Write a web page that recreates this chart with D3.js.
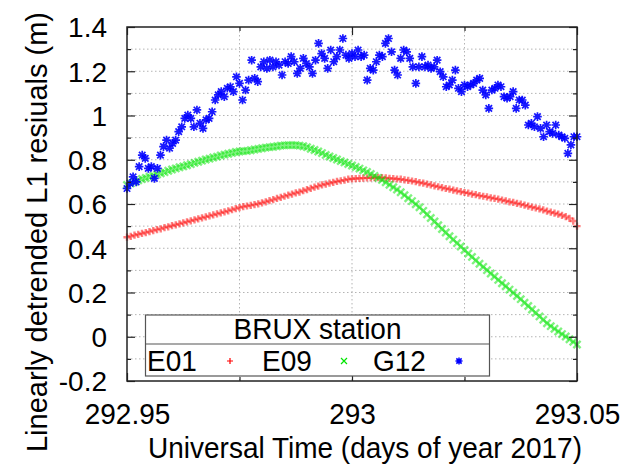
<!DOCTYPE html>
<html><head><meta charset="utf-8">
<script src="https://cdn.jsdelivr.net/npm/d3@7"></script>
<style>
body{margin:0;background:#fff}
text{font-family:"Liberation Sans",Arial,Helvetica,sans-serif;fill:#000}
</style>
</head><body>
<svg id="chart" width="629" height="475"></svg>
<script>
// ---------- data ----------
const tStart = 292.95, tEnd = 293.05;
const seriesNames = ["E01", "E09", "G12"];
const seriesColors = ["#ff0000", "#00e600", "#0000ff"];
const e01 = [
 .450,.454,.459,.463,.467,.471,.475,.480,.484,.488,.493,.497,.502,.506,.510,.515,.519,.524,.528,.533,
 .537,.542,.546,.551,.555,.560,.564,.569,.574,.579,.584,.588,.591,.594,.597,.601,.605,.610,.615,.620,
 .625,.630,.635,.640,.645,.650,.654,.660,.665,.671,.676,.681,.686,.690,.694,.698,.702,.705,.708,.712,
 .714,.715,.716,.717,.718,.718,.719,.719,.719,.718,.716,.715,.713,.712,.709,.707,.704,.701,.697,.694,
 .690,.686,.682,.678,.674,.670,.667,.663,.659,.656,.652,.649,.645,.642,.638,.635,.632,.628,.625,.622,
 .618,.614,.610,.607,.603,.599,.595,.590,.586,.582,.578,.573,.568,.563,.559,.554,.549,.543,.535,.523,
 .500];
const e09 = [
 .686,.693,.700,.707,.713,.718,.723,.728,.733,.739,.744,.750,.756,.761,.766,.770,.775,.780,.786,.791,
 .796,.801,.805,.810,.814,.819,.823,.827,.831,.835,.837,.839,.840,.843,.846,.849,.852,.855,.857,.859,
 .861,.864,.865,.866,.866,.866,.864,.861,.857,.850,.844,.837,.830,.822,.815,.808,.801,.794,.788,.781,
 .774,.767,.760,.752,.745,.736,.727,.718,.709,.698,.687,.676,.665,.653,.640,.626,.613,.599,.585,.569,
 .553,.537,.521,.504,.487,.471,.454,.439,.423,.408,.392,.376,.361,.345,.330,.316,.301,.286,.272,.257,
 .242,.228,.213,.199,.184,.170,.154,.139,.123,.108,.092,.077,.061,.048,.036,.024,.012,.001,-.011,-.023,
 -.035];
const g12 = [
 .670,.693,.723,.700,.769,.821,.806,.761,.769,.716,.761,.821,.859,.889,.852,.874,.889,.927,.949,.987,
 1.002,.987,.949,1.025,.965,.942,.980,.987,1.017,1.070,1.093,1.108,1.085,1.123,1.130,1.108,1.175,
 1.145,1.070,1.115,1.160,1.250,1.168,1.153,1.220,1.243,1.213,1.250,1.220,1.243,1.228,1.183,1.243,1.235,
 1.266,1.243,1.190,1.213,1.258,1.235,1.220,1.190,1.250,1.326,1.280,1.258,1.213,1.296,1.243,1.266,1.296,1.348,
 1.273,1.258,1.280,1.266,1.296,1.266,1.273,1.160,1.213,1.205,1.243,1.273,1.266,1.326,1.348,1.288,1.205,
 1.183,1.258,1.296,1.288,1.258,1.220,1.145,1.220,1.266,1.220,1.228,1.213,1.220,1.250,1.198,1.175,1.130,
 1.138,1.160,1.205,1.123,1.108,1.138,
 1.130,1.138,1.145,1.160,1.168,1.115,1.093,1.032,1.115,1.123,1.138,1.130,1.085,1.078,1.085,1.108,1.032,
 1.070,1.070,1.047,.957,.965,.949,.995,.942,.904,.957,.927,.919,.957,.912,.904,.897,.829,.867,.904,.904];
const seriesValues = [e01, e09, g12];

const yTicks = [-0.2, 0, 0.2, 0.4, 0.6, 0.8, 1, 1.2, 1.4];
const yTickLabels = ["-0.2", "0", "0.2", "0.4", "0.6", "0.8", "1", "1.2", "1.4"];
const yMinor = [-0.1, 0.1, 0.3, 0.5, 0.7, 0.9, 1.1, 1.3];
const xTicks = [292.95, 293, 293.05];
const xTickLabels = ["292.95", "293", "293.05"];
const xMinor = [292.975, 293.025];
const xTitle = "Universal Time (days of year 2017)";
const yTitle = "Linearly detrended L1 resiuals (m)";
const legendTitle = "BRUX station";

// ---------- layout ----------
const L = 127, R = 577, T = 27, B = 381;
const svg = d3.select("#chart");
const x = d3.scaleLinear().domain([tStart, tEnd]).range([L, R]);
const y = d3.scaleLinear().domain([-0.2, 1.4]).range([B, T]);
const FS = 28;
const TS = "scale(1,1.08)";

// grid
const gridG = svg.append("g");
const allY = yTicks.concat(yMinor).filter(v => v > -0.2 && v < 1.4);
const allX = xTicks.concat(xMinor).filter(v => v > tStart && v < tEnd);
gridG.selectAll("line.gy").data(allY).join("line")
  .attr("x1", L).attr("x2", R).attr("y1", d => y(d)).attr("y2", d => y(d))
  .attr("stroke", "#b4b4b4").attr("stroke-width", 1).attr("stroke-dasharray", "1.5,2.5");
gridG.selectAll("line.gx").data(allX).join("line")
  .attr("y1", T).attr("y2", B).attr("x1", d => x(d)).attr("x2", d => x(d))
  .attr("stroke", "#b4b4b4").attr("stroke-width", 1).attr("stroke-dasharray", "1.5,2.5");

// marker shapes
const shapes = {
  plus: r => `M${-r},0H${r}M0,${-r}V${r}`,
  cross: r => `M${-r},${-r}L${r},${r}M${-r},${r}L${r},${-r}`,
  star: r => `M${-r},0H${r}M0,${-r}V${r}M${-r*0.75},${-r*0.75}L${r*0.75},${r*0.75}M${-r*0.75},${r*0.75}L${r*0.75},${-r*0.75}`
};
const seriesShape = ["plus", "cross", "star"];
const seriesR = [3.6, 3.6, 4.3];
const seriesW = [2.4, 2.4, 1.7];
const seriesOp = [0.5, 0.5, 0.9];

const dataG = svg.append("g");
seriesValues.forEach((vals, si) => {
  const n = vals.length;
  const pts = vals.map((v, i) => ({t: tStart + i * (tEnd - tStart) / (n - 1), v}));
  dataG.append("g").selectAll("path").data(pts).join("path")
    .attr("transform", d => `translate(${x(d.t)},${y(d.v)})`)
    .attr("d", shapes[seriesShape[si]](seriesR[si]))
    .attr("fill", "none")
    .attr("stroke", seriesColors[si])
    .attr("stroke-width", seriesW[si])
    .attr("stroke-opacity", seriesOp[si]);
});

// axes ticks (inward, mirrored)
function styleAxis(g) {
  g.select(".domain").remove();
  g.selectAll(".tick line").attr("stroke", "#222").attr("stroke-width", 1.2);
}
svg.append("g").attr("transform", `translate(0,${B})`)
  .call(d3.axisBottom(x).tickValues(xTicks).tickSize(-8).tickFormat((d, i) => xTickLabels[i]))
  .call(styleAxis)
  .call(g => g.selectAll("text").attr("font-size", FS).attr("dy", 0).attr("y", 40)
    .attr("transform", TS)
    .style("font-family", "Liberation Sans, Arial, sans-serif").attr("fill", "#000"));
svg.append("g").attr("transform", `translate(0,${B})`)
  .call(d3.axisBottom(x).tickValues(xMinor).tickSize(-4).tickFormat(""))
  .call(styleAxis);
svg.append("g").attr("transform", `translate(0,${T})`)
  .call(d3.axisTop(x).tickValues(xTicks).tickSize(-8).tickFormat(""))
  .call(styleAxis);
svg.append("g").attr("transform", `translate(0,${T})`)
  .call(d3.axisTop(x).tickValues(xMinor).tickSize(-4).tickFormat(""))
  .call(styleAxis);
svg.append("g").attr("transform", `translate(${L},0)`)
  .call(d3.axisLeft(y).tickValues(yTicks).tickSize(-8).tickFormat((d, i) => yTickLabels[i]))
  .call(styleAxis)
  .call(g => g.selectAll("text").attr("font-size", FS).attr("x", -20).attr("dy", "0.35em")
    .style("font-family", "Liberation Sans, Arial, sans-serif").attr("fill", "#000"));
svg.append("g").attr("transform", `translate(${L},0)`)
  .call(d3.axisLeft(y).tickValues(yMinor).tickSize(-4).tickFormat(""))
  .call(styleAxis);
svg.append("g").attr("transform", `translate(${R},0)`)
  .call(d3.axisRight(y).tickValues(yTicks).tickSize(-8).tickFormat(""))
  .call(styleAxis);
svg.append("g").attr("transform", `translate(${R},0)`)
  .call(d3.axisRight(y).tickValues(yMinor).tickSize(-4).tickFormat(""))
  .call(styleAxis);

// border
svg.append("rect").attr("x", L).attr("y", T).attr("width", R - L).attr("height", B - T)
  .attr("fill", "none").attr("stroke", "#222").attr("stroke-width", 1.5);

// titles
svg.append("text").attr("transform", `translate(365,458) ${TS}`).attr("text-anchor", "middle")
  .attr("font-size", FS).text(xTitle);
svg.append("text").attr("transform", "translate(47,232) rotate(-90)").attr("text-anchor", "middle")
  .attr("font-size", 29).text(yTitle);

// legend
const lg = svg.append("g");
const lx = 145.5, ly = 315, lw = 344, lh = 61, lsep = 344;
lg.append("rect").attr("x", lx).attr("y", ly).attr("width", lw).attr("height", lh)
  .attr("fill", "#fff").attr("stroke", "#555").attr("stroke-width", 1.2);
lg.append("line").attr("x1", lx).attr("x2", lx + lw).attr("y1", lsep).attr("y2", lsep)
  .attr("stroke", "#555").attr("stroke-width", 1.2);
lg.append("text").attr("transform", `translate(${lx + lw / 2},339) ${TS}`).attr("text-anchor", "middle")
  .attr("font-size", FS).text(legendTitle);
const entryTextX = [147, 262, 373];
const entryMarkX = [230, 344, 459];
const legendR = [3, 3, 3.5];
const legendW = [1.2, 1.2, 1.5];
seriesNames.forEach((nm, si) => {
  lg.append("text").attr("transform", `translate(${entryTextX[si]},371) ${TS}`).attr("font-size", FS).text(nm);
  lg.append("path").attr("transform", `translate(${entryMarkX[si]},361)`)
    .attr("d", shapes[seriesShape[si]](legendR[si]))
    .attr("fill", "none").attr("stroke", seriesColors[si]).attr("stroke-width", legendW[si]);
});
</script>
</body></html>
